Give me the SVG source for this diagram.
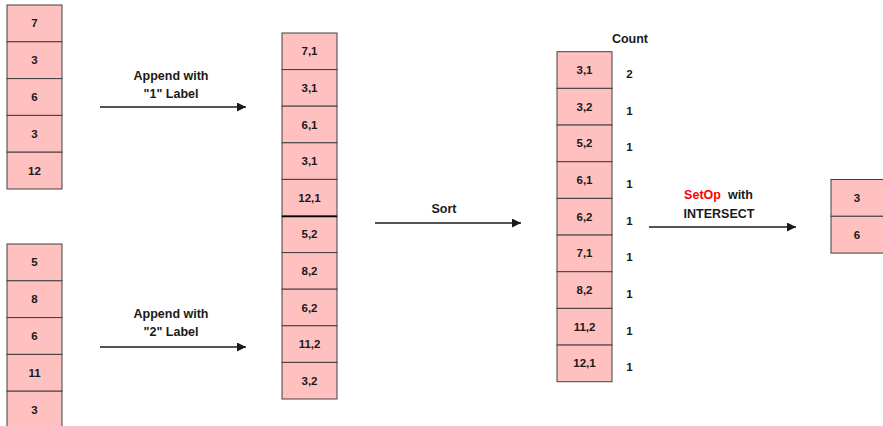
<svg xmlns="http://www.w3.org/2000/svg" width="883" height="426" viewBox="0 0 883 426">
<defs>
<style>
.cell{fill:#FFC0C0;stroke:#404040;stroke-width:1}
.t{font-family:"Liberation Sans",Arial,sans-serif;font-weight:bold;font-size:11.5px;fill:#1a1a1a;text-anchor:middle}
.lbl{font-family:"Liberation Sans",Arial,sans-serif;font-weight:bold;font-size:12.5px;fill:#1a1a1a;text-anchor:middle}
.arr{stroke:#1a1a1a;stroke-width:1.5;fill:none;marker-end:url(#ah)}
</style>
<marker id="ah" viewBox="0 0 10 10" refX="10" refY="5" markerWidth="6" markerHeight="6" orient="auto" markerUnits="strokeWidth">
<path d="M0,0 L10,5 L0,10 Z" fill="#1a1a1a"/>
</marker>
</defs>
<rect width="883" height="426" fill="#ffffff"/>

<g id="input1">
<rect class="cell" x="7" y="5" width="55" height="36.8"/>
<rect class="cell" x="7" y="41.8" width="55" height="36.8"/>
<rect class="cell" x="7" y="78.6" width="55" height="36.8"/>
<rect class="cell" x="7" y="115.4" width="55" height="36.8"/>
<rect class="cell" x="7" y="152.2" width="55" height="36.8"/>
<text class="t" x="34.5" y="27.4">7</text>
<text class="t" x="34.5" y="64.2">3</text>
<text class="t" x="34.5" y="101">6</text>
<text class="t" x="34.5" y="137.8">3</text>
<text class="t" x="34.5" y="174.6">12</text>
</g>

<g id="input2">
<rect class="cell" x="7" y="244" width="55" height="36.8"/>
<rect class="cell" x="7" y="280.8" width="55" height="36.8"/>
<rect class="cell" x="7" y="317.6" width="55" height="36.8"/>
<rect class="cell" x="7" y="354.4" width="55" height="36.8"/>
<rect class="cell" x="7" y="391.2" width="55" height="36.8"/>
<text class="t" x="34.5" y="266.4">5</text>
<text class="t" x="34.5" y="303.2">8</text>
<text class="t" x="34.5" y="340">6</text>
<text class="t" x="34.5" y="376.8">11</text>
<text class="t" x="34.5" y="413.6">3</text>
</g>

<g id="labeled">
<rect class="cell" x="282" y="33" width="55" height="36.6"/>
<rect class="cell" x="282" y="69.6" width="55" height="36.6"/>
<rect class="cell" x="282" y="106.2" width="55" height="36.6"/>
<rect class="cell" x="282" y="142.8" width="55" height="36.6"/>
<rect class="cell" x="282" y="179.4" width="55" height="36.6"/>
<rect class="cell" x="282" y="216" width="55" height="36.6"/>
<rect class="cell" x="282" y="252.6" width="55" height="36.6"/>
<rect class="cell" x="282" y="289.2" width="55" height="36.6"/>
<rect class="cell" x="282" y="325.8" width="55" height="36.6"/>
<rect class="cell" x="282" y="362.4" width="55" height="36.6"/>
<line x1="282" y1="216.5" x2="337" y2="216.5" stroke="#000" stroke-width="1.5"/>
<text class="t" x="309.5" y="55.3">7,1</text>
<text class="t" x="309.5" y="91.9">3,1</text>
<text class="t" x="309.5" y="128.5">6,1</text>
<text class="t" x="309.5" y="165.1">3,1</text>
<text class="t" x="309.5" y="201.7">12,1</text>
<text class="t" x="309.5" y="238.3">5,2</text>
<text class="t" x="309.5" y="274.9">8,2</text>
<text class="t" x="309.5" y="311.5">6,2</text>
<text class="t" x="309.5" y="348.1">11,2</text>
<text class="t" x="309.5" y="384.7">3,2</text>
</g>

<g id="sorted">
<rect class="cell" x="557" y="51.7" width="55" height="36.67"/>
<rect class="cell" x="557" y="88.37" width="55" height="36.67"/>
<rect class="cell" x="557" y="125.04" width="55" height="36.67"/>
<rect class="cell" x="557" y="161.71" width="55" height="36.67"/>
<rect class="cell" x="557" y="198.38" width="55" height="36.67"/>
<rect class="cell" x="557" y="235.05" width="55" height="36.67"/>
<rect class="cell" x="557" y="271.72" width="55" height="36.67"/>
<rect class="cell" x="557" y="308.39" width="55" height="36.67"/>
<rect class="cell" x="557" y="345.06" width="55" height="36.67"/>
<text class="t" x="584.5" y="74">3,1</text>
<text class="t" x="584.5" y="110.7">3,2</text>
<text class="t" x="584.5" y="147.4">5,2</text>
<text class="t" x="584.5" y="184">6,1</text>
<text class="t" x="584.5" y="220.7">6,2</text>
<text class="t" x="584.5" y="257.4">7,1</text>
<text class="t" x="584.5" y="294">8,2</text>
<text class="t" x="584.5" y="330.7">11,2</text>
<text class="t" x="584.5" y="367.4">12,1</text>
</g>

<g id="counts">
<text class="lbl" x="630" y="43">Count</text>
<text class="t" x="629.5" y="78">2</text>
<text class="t" x="629.5" y="114.7">1</text>
<text class="t" x="629.5" y="151.4">1</text>
<text class="t" x="629.5" y="188">1</text>
<text class="t" x="629.5" y="224.7">1</text>
<text class="t" x="629.5" y="261.4">1</text>
<text class="t" x="629.5" y="298">1</text>
<text class="t" x="629.5" y="334.7">1</text>
<text class="t" x="629.5" y="371.4">1</text>
</g>

<g id="result">
<rect class="cell" x="831" y="179.5" width="55" height="36.8"/>
<rect class="cell" x="831" y="216.3" width="55" height="36.8"/>
<text class="t" x="857" y="201.9">3</text>
<text class="t" x="857" y="238.7">6</text>
</g>

<g id="connectors">
<line class="arr" x1="100" y1="107" x2="246" y2="107"/>
<line class="arr" x1="100" y1="347" x2="246" y2="347"/>
<line class="arr" x1="375" y1="223" x2="521" y2="223"/>
<line class="arr" x1="649" y1="227" x2="796" y2="227"/>
</g>

<g id="labels">
<text class="lbl" x="171" y="79.5">Append with</text>
<text class="lbl" x="171" y="97.5">"1" Label</text>
<text class="lbl" x="171" y="318">Append with</text>
<text class="lbl" x="171" y="336">"2" Label</text>
<text class="lbl" x="444" y="212.5">Sort</text>
<text class="lbl" x="718.5" y="198.5"><tspan fill="#ff0000">SetOp</tspan><tspan dx="7">with</tspan></text>
<text class="lbl" x="719" y="217.5">INTERSECT</text>
</g>
</svg>
